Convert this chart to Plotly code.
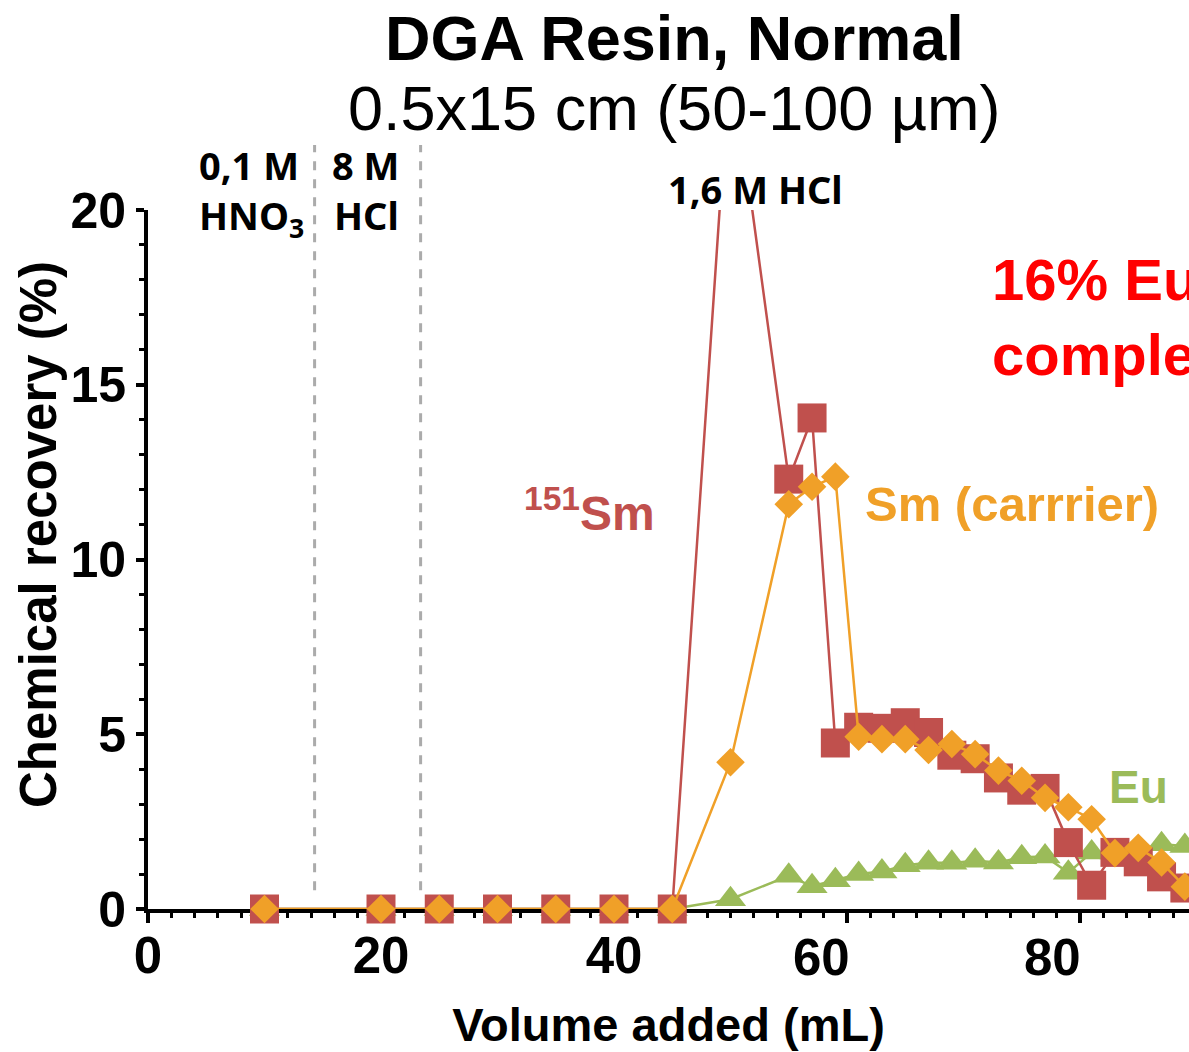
import plotly.graph_objects as go

# ---- data ----
volume = [10, 20, 25, 30, 35, 40, 45, 50, 55, 57, 59, 61, 63, 65, 67, 69, 71, 73, 75, 77, 79, 81, 83, 85, 87, 89]
sm151 = [0, 0, 0, 0, 0, 0, 0, 24.6, 12.3, 14.05, 4.75, 5.2, 5.17, 5.33, 5.05, 4.4, 4.3, 3.75, 3.4, 3.45, 1.9, 0.68, 1.62, 1.35, 0.92, 0.6]
sm_carrier = [0, 0, 0, 0, 0, 0, 0, 4.2, 11.58, 12.08, 12.37, 4.93, 4.86, 4.86, 4.55, 4.72, 4.43, 3.96, 3.67, 3.18, 2.91, 2.57, 1.6, 1.75, 1.33, 0.64]
eu = [0, 0, 0, 0, 0, 0, 0, 0.28, 0.95, 0.65, 0.82, 1.0, 1.07, 1.25, 1.32, 1.32, 1.38, 1.33, 1.48, 1.5, 1.04, 1.62, 1.62, 1.7, 1.85, 1.8]

eluent_boundaries = [14.3, 23.4]
x_ticks = [0, 20, 40, 60, 80]
x_tick_text = ["0", "20", "40", "", ""]
# in the reference the "60" and "80" labels sit left of their tick marks
x_shifted_labels = ["60", "80"]
x_shifted_label_pos = [57.85, 77.6]
y_ticks = [0, 5, 10, 15, 20]

RED = "#C0504D"
ORANGE = "#F0A028"
GREEN = "#9BBB59"
FONT = "Liberation Sans, Arial, sans-serif"
LABEL_FONT = "Noto Sans, Open Sans, sans-serif"

fig = go.Figure()
fig.add_trace(go.Scatter(x=volume, y=eu, mode="lines+markers", name="Eu",
                         line=dict(color=GREEN, width=2.5),
                         marker=dict(symbol="triangle-up", size=27, color=GREEN),
                         cliponaxis=False))
fig.add_trace(go.Scatter(x=volume, y=sm151, mode="lines+markers", name="151Sm",
                         line=dict(color=RED, width=2.5),
                         marker=dict(symbol="square", size=29, color=RED),
                         cliponaxis=False))
fig.add_trace(go.Scatter(x=volume, y=sm_carrier, mode="lines+markers", name="Sm (carrier)",
                         line=dict(color=ORANGE, width=2.5),
                         marker=dict(symbol="diamond", size=22, color=ORANGE),
                         cliponaxis=False))

for xb in eluent_boundaries:
    fig.add_shape(type="line", xref="x", yref="paper", x0=xb, x1=xb, y0=0.027, y1=1.093,
                  line=dict(color="#ABABAB", width=3, dash="dash"))

ann = []
# titles
ann.append(dict(text="<b>DGA Resin, Normal</b>", xref="paper", yref="paper", x=0.506, y=(909 - 38) / 699,
                xanchor="center", yanchor="middle", showarrow=False,
                font=dict(family=FONT, size=63, color="black")))
ann.append(dict(text="0.5x15 cm (50-100 µm)", xref="paper", yref="paper", x=0.506, y=(909 - 108) / 699,
                xanchor="center", yanchor="middle", showarrow=False,
                font=dict(family=FONT, size=63, color="black")))
# y-axis title
ann.append(dict(text="<b>Chemical recovery (%)</b>", xref="paper", yref="paper",
                x=(38 - 148) / 1041, y=(909 - 535) / 699, textangle=-90,
                xanchor="center", yanchor="middle", showarrow=False,
                font=dict(family=FONT, size=51, color="black")))
# shifted x tick labels
for lbl, xp in zip(x_shifted_labels, x_shifted_label_pos):
    ann.append(dict(text="<b>%s</b>" % lbl, xref="x", yref="paper", x=xp, y=(909 - 957) / 699,
                    xanchor="center", yanchor="middle", showarrow=False,
                    font=dict(family=FONT, size=51, color="black")))
# eluent labels
for txt, xpix, ypix in [("0,1 M", 249, 165), ("HNO<sub>3</sub>", 251, 217), ("8 M", 365, 165),
                        ("HCl", 366, 215), ("1,6 M HCl", 755, 189)]:
    ann.append(dict(text="<b>%s</b>" % txt, xref="x", yref="paper", x=(xpix - 148) / 11.65,
                    y=(909 - ypix) / 699, xanchor="center", yanchor="middle", showarrow=False,
                    font=dict(family=LABEL_FONT, size=38, color="black")))
# series labels
ann.append(dict(text="<b><sup>151</sup>Sm</b>", x=37.9, y=11.42, xanchor="center", yanchor="middle",
                showarrow=False, font=dict(family=FONT, size=48, color=RED)))
ann.append(dict(text="<b>Sm (carrrier)</b>", x=74.2, y=11.6, xanchor="center", yanchor="middle",
                showarrow=False, font=dict(family=FONT, size=49, color=ORANGE)))
ann.append(dict(text="<b>Eu</b>", x=85.0, y=3.5, xanchor="center", yanchor="middle",
                showarrow=False, font=dict(family=FONT, size=46, color=GREEN)))
ann.append(dict(text="<b>16% Eu<br>complexed</b>", x=72.3, y=16.95, xanchor="left", yanchor="middle",
                align="left", showarrow=False, font=dict(family=FONT, size=58, color="#FF0000")))

fig.update_layout(
    width=1189, height=1052,
    margin=dict(l=148, r=0, t=210, b=143),
    paper_bgcolor="white", plot_bgcolor="white",
    showlegend=False,
    annotations=ann,
    xaxis=dict(range=[0, (1189 - 148) / 11.65], tickvals=x_ticks, ticktext=x_tick_text,
               showgrid=False, zeroline=False,
               showline=True, linecolor="black", linewidth=4, automargin=False,
               ticks="outside", ticklen=10, tickwidth=4, tickcolor="black",
               minor=dict(dtick=2, ticks="outside", ticklen=5, tickwidth=3, tickcolor="black", showgrid=False),
               tickfont=dict(family=FONT, size=51, color="black", weight="bold"),
               ticklabelstandoff=-11, layer="below traces",
               title=dict(text="<b>Volume added (mL)</b>", font=dict(family=FONT, size=47, color="black"),
                          standoff=26)),
    yaxis=dict(range=[0, 20], tickvals=y_ticks, showgrid=False, zeroline=False,
               showline=True, linecolor="black", linewidth=4, automargin=False,
               ticks="outside", ticklen=8, tickwidth=4, tickcolor="black",
               minor=dict(dtick=1, ticks="outside", ticklen=5, tickwidth=3, tickcolor="black", showgrid=False),
               tickfont=dict(family=FONT, size=50, color="black", weight="bold"),
               layer="below traces"),
)

fig.write_html("out.html")
